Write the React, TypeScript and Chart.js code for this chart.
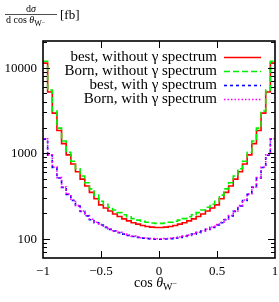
import React, { useEffect, useRef } from "react";
import { Chart, registerables } from "chart.js";

Chart.register(...registerables);

// 50 bins of width 0.04 in cos(theta_W-) from -1 to 1
const N_BINS = 50;
const BIN_WIDTH = 0.04;
const X_MIN = -1;
const X_MAX = 1;
const BIN_LOW_EDGES = Array.from({ length: N_BINS }, (_, i) => X_MIN + i * BIN_WIDTH);

const BEST_NO_GAMMA = [
  11300, 5200, 2950, 1850, 1300, 960, 750, 610, 500, 415,
  350, 295, 250, 230, 212, 196, 183, 172, 163, 155,
  149, 144, 140, 137.5, 136,
  136, 137.5, 140, 144, 149,
  155, 163, 172, 183, 196, 212, 230, 250, 295, 350,
  415, 500, 610, 750, 960, 1300, 1850, 2950, 5200, 11300,
];

const BORN_NO_GAMMA = [
  11900, 5490, 3130, 1970, 1391, 1032, 810, 662, 545, 454,
  385, 325, 276, 255, 235, 218, 203, 192, 182, 173,
  166, 161, 157, 154, 152,
  152, 154, 157, 161, 166,
  173, 182, 192, 203, 218, 235, 255, 276, 325, 385,
  454, 545, 662, 810, 1032, 1391, 1970, 3130, 5490, 11900,
];

const BEST_GAMMA = [
  1465, 950, 683, 515, 401, 332, 282, 243, 210, 186,
  168, 155, 145.5, 136.6, 129.7, 123.8, 118.8, 113.9, 109.9, 106.9,
  104.4, 102.5, 101, 100, 99.5,
  99.5, 100, 101, 102.5, 104.4,
  106.9, 109.9, 113.9, 118.8, 123.8, 129.7, 136.6, 145.5, 155, 168,
  186, 210, 243, 282, 332, 401, 515, 683, 950, 1465,
];

const BORN_GAMMA = [
  1480, 960, 690, 520, 405, 335, 285, 245, 212, 188,
  170, 157, 147, 138, 131, 125, 120, 115, 111, 108,
  105.5, 103.5, 102, 101, 100.5,
  100.5, 101, 102, 103.5, 105.5,
  108, 111, 115, 120, 125, 131, 138, 147, 157, 170,
  188, 212, 245, 285, 335, 405, 520, 690, 960, 1480,
];

const SERIES_LABELS = [
  "best, without \u03b3 spectrum",
  "Born, without \u03b3 spectrum",
  "best, with \u03b3 spectrum",
  "Born, with \u03b3 spectrum",
];

const X_TICKS = [-0.5, 0, 0.5];
const X_TICK_LABELS_VALUES = [-1, -0.5, 0, 0.5, 1];
const X_TICK_LABELS = ["\u22121", "\u22120.5", "0", "0.5", "1"];
const Y_TICK_VALUES = [100, 1000, 10000];
const Y_TICK_LABELS = ["100", "1000", "10000"];
const Y_MIN = 60;
const Y_MAX = 20500;

const SERIF = "'Liberation Serif', 'DejaVu Serif', serif";

function histPoints(values: number[]) {
  const pts = values.map((v, i) => ({ x: BIN_LOW_EDGES[i], y: v }));
  pts.push({ x: X_MAX, y: values[values.length - 1] });
  return pts;
}

const framePlugin = {
  id: "frameAndText",
  afterDraw(chart: any) {
    const { ctx, chartArea: a, scales } = chart;
    const xs = scales.x;
    const ys = scales.y;
    ctx.save();

    // ticks
    ctx.strokeStyle = "#000";
    ctx.lineWidth = 1;
    const seg = (x1: number, y1: number, x2: number, y2: number) => {
      ctx.beginPath();
      ctx.moveTo(x1, y1);
      ctx.lineTo(x2, y2);
      ctx.stroke();
    };
    for (let e = 1; e <= 5; e++) {
      for (let m = 1; m <= 9; m++) {
        const v = m * Math.pow(10, e);
        if (v <= Y_MIN || v >= Y_MAX) continue;
        const py = Math.round(ys.getPixelForValue(v)) + 0.5;
        const len = m === 1 ? 7 : 4;
        seg(a.left, py, a.left + len, py);
        seg(a.right, py, a.right - len, py);
      }
    }
    for (const v of X_TICKS) {
      const px = Math.round(xs.getPixelForValue(v)) + 0.5;
      seg(px, a.bottom, px, a.bottom - 7);
      seg(px, a.top, px, a.top + 7);
    }

    // frame
    ctx.lineWidth = 1.6;
    ctx.strokeRect(a.left, a.top, a.right - a.left, a.bottom - a.top);

    // tick labels
    ctx.fillStyle = "#000";
    ctx.font = `13px ${SERIF}`;
    ctx.textAlign = "right";
    ctx.textBaseline = "middle";
    Y_TICK_VALUES.forEach((v, i) => {
      ctx.fillText(Y_TICK_LABELS[i], a.left - 6, ys.getPixelForValue(v) + 0.5);
    });
    ctx.textAlign = "center";
    X_TICK_LABELS_VALUES.forEach((v, i) => {
      ctx.fillText(X_TICK_LABELS[i], xs.getPixelForValue(v), a.bottom + 14);
    });

    // x axis title: cos θ_{W^-}
    ctx.textBaseline = "alphabetic";
    ctx.textAlign = "left";
    const xt = (a.left + a.right) / 2 - 25;
    const bl = a.bottom + 29;
    ctx.font = `14px ${SERIF}`;
    ctx.fillText("cos ", xt, bl);
    let w = ctx.measureText("cos ").width;
    ctx.font = `italic 14px ${SERIF}`;
    ctx.fillText("\u03b8", xt + w, bl);
    w += ctx.measureText("\u03b8").width;
    ctx.font = `10px ${SERIF}`;
    ctx.fillText("W", xt + w, bl + 3);
    w += ctx.measureText("W").width;
    ctx.font = `8px ${SERIF}`;
    ctx.fillText("\u2212", xt + w, bl - 1);

    // y axis title: dσ / d cos θ_{W^-}  [fb]
    const fracL = 5;
    const fracR = 57;
    ctx.lineWidth = 0.7;
    seg(fracL, 14.5, fracR, 14.5);
    ctx.font = `10px ${SERIF}`;
    const dW = ctx.measureText("d").width;
    ctx.font = `italic 10px ${SERIF}`;
    const sW = ctx.measureText("\u03c3").width;
    let nx = (fracL + fracR) / 2 - (dW + sW) / 2;
    ctx.font = `10px ${SERIF}`;
    ctx.fillText("d", nx, 11.5);
    ctx.font = `italic 10px ${SERIF}`;
    ctx.fillText("\u03c3", nx + dW, 11.5);
    // denominator
    let dx = fracL + 1;
    ctx.font = `10px ${SERIF}`;
    ctx.fillText("d cos ", dx, 23);
    dx += ctx.measureText("d cos ").width;
    ctx.font = `italic 10px ${SERIF}`;
    ctx.fillText("\u03b8", dx, 23);
    dx += ctx.measureText("\u03b8").width;
    ctx.font = `8px ${SERIF}`;
    ctx.fillText("W", dx, 25.5);
    dx += ctx.measureText("W").width;
    ctx.font = `6px ${SERIF}`;
    ctx.fillText("\u2212", dx, 23.5);
    ctx.font = `13px ${SERIF}`;
    ctx.fillText("[fb]", 60, 18.5);

    // legend
    const ds = chart.data.datasets;
    ctx.font = `15px ${SERIF}`;
    ctx.textAlign = "right";
    ctx.textBaseline = "middle";
    ds.forEach((d: any, i: number) => {
      const ry = 57 + i * 14;
      ctx.fillStyle = "#000";
      ctx.fillText(d.label, 217, ry);
      ctx.strokeStyle = d.borderColor;
      ctx.lineWidth = d.borderWidth;
      ctx.setLineDash(d.borderDash || []);
      ctx.beginPath();
      ctx.moveTo(224, ry + 0.5);
      ctx.lineTo(261, ry + 0.5);
      ctx.stroke();
      ctx.setLineDash([]);
    });

    ctx.restore();
  },
};

export default function App() {
  const ref = useRef<HTMLCanvasElement | null>(null);

  useEffect(() => {
    if (!ref.current) return;
    const chart = new Chart(ref.current, {
      type: "line",
      data: {
        datasets: [
          {
            label: SERIES_LABELS[0],
            data: histPoints(BEST_NO_GAMMA),
            borderColor: "#ff0000",
            borderWidth: 1.6,
            borderDash: [],
            stepped: true,
            pointRadius: 0,
            fill: false,
            order: 3,
          },
          {
            label: SERIES_LABELS[1],
            data: histPoints(BORN_NO_GAMMA),
            borderColor: "#00f000",
            borderWidth: 1.6,
            borderDash: [6, 3],
            stepped: true,
            pointRadius: 0,
            fill: false,
            order: 2,
          },
          {
            label: SERIES_LABELS[2],
            data: histPoints(BEST_GAMMA),
            borderColor: "#0000ff",
            borderWidth: 1.6,
            borderDash: [3, 3],
            stepped: true,
            pointRadius: 0,
            fill: false,
            order: 1,
          },
          {
            label: SERIES_LABELS[3],
            data: histPoints(BORN_GAMMA),
            borderColor: "#ff00ff",
            borderWidth: 1.6,
            borderDash: [1.5, 2],
            stepped: true,
            pointRadius: 0,
            fill: false,
            order: 0,
          },
        ],
      },
      options: {
        responsive: false,
        maintainAspectRatio: false,
        animation: false,
        layout: { padding: { left: 43, top: 41, right: 4, bottom: 44 } },
        plugins: { legend: { display: false }, tooltip: { enabled: false } },
        scales: {
          x: { type: "linear", min: X_MIN, max: X_MAX, display: false },
          y: { type: "logarithmic", min: Y_MIN, max: Y_MAX, display: false },
        },
      },
      plugins: [framePlugin],
    });
    return () => chart.destroy();
  }, []);

  return (
    <div style={{ position: "fixed", left: 0, top: 0, width: 279, height: 302, background: "#fff" }}>
      <canvas ref={ref} width={279} height={302} style={{ display: "block" }} />
    </div>
  );
}
